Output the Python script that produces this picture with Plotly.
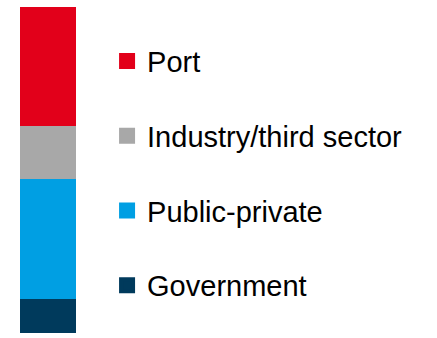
import plotly.graph_objects as go

categories = ["Government", "Public-private", "Industry/third sector", "Port"]
values = [11, 37, 16, 36]
colors = ["#003A5C", "#009FE3", "#A8A8A8", "#E2001A"]
legend_ranks = [4, 3, 2, 1]

fig = go.Figure()
for name, v, c, rk in zip(categories, values, colors, legend_ranks):
    fig.add_trace(go.Bar(
        x=[0], y=[v], name=name, legendgroup=name, legendrank=rk,
        marker=dict(color=c, line=dict(color=c, width=4)),
        width=0.54, hoverinfo="skip",
    ))

fig.update_layout(
    barmode="stack",
    width=437, height=338,
    margin=dict(l=0, r=0, t=7, b=5),
    paper_bgcolor="white", plot_bgcolor="white",
    xaxis=dict(domain=[0, 96 / 437], range=[-0.5, 0.5], visible=False),
    yaxis=dict(range=[0, 100], visible=False),
    showlegend=True,
    legend=dict(
        x=0.245, y=0.912, xanchor="left", yanchor="top",
        traceorder="grouped", tracegroupgap=34,
        font=dict(family="Liberation Sans, Arial, sans-serif", size=29, color="#000000"),
        bgcolor="rgba(0,0,0,0)",
    ),
)

fig.write_html("out.html")
